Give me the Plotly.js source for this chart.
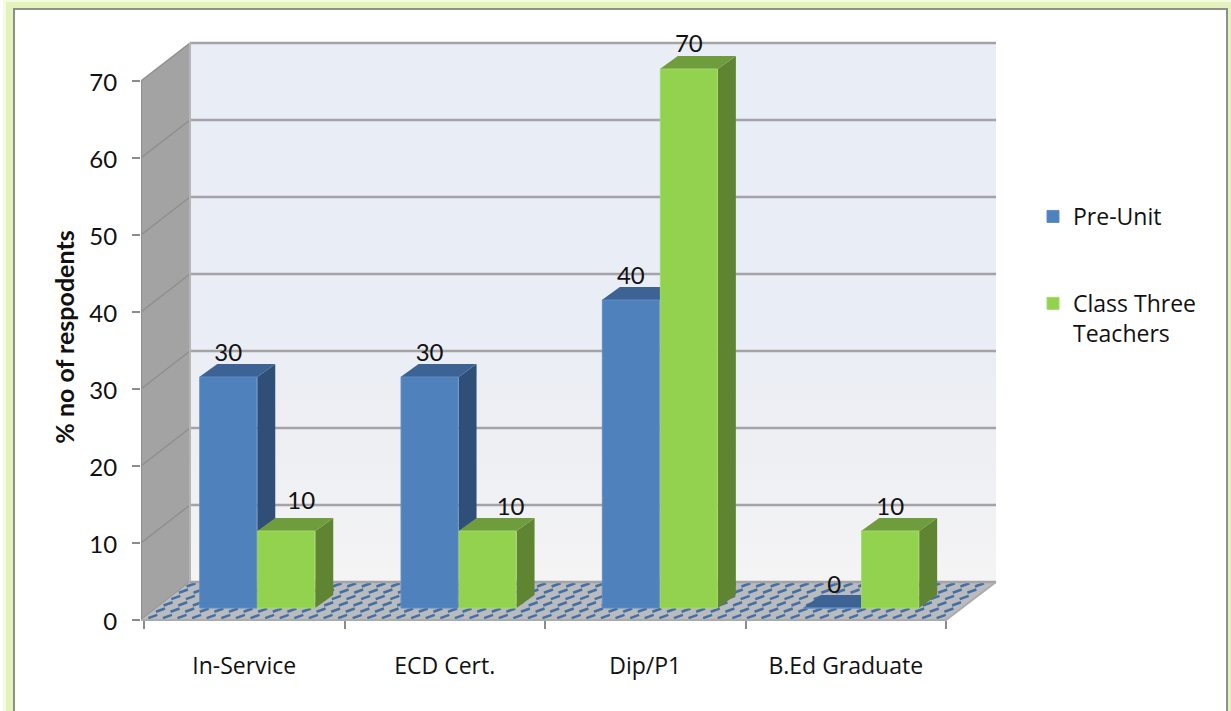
<!DOCTYPE html>
<html><head><meta charset="utf-8">
<script src="https://cdn.plot.ly/plotly-3.0.1.min.js"></script>
<style>html,body{margin:0;padding:0;background:#fff}#c{width:1231px;height:711px}</style></head>
<body><div id="c"></div>
<script>
const categories = ['In-Service', 'ECD Cert.', 'Dip/P1', 'B.Ed Graduate'];
const preUnit = [30, 30, 40, 0];
const classThree = [10, 10, 70, 10];
const seriesNames = ['Pre-Unit', 'Class Three<br>Teachers'];
const yTicks = [0, 10, 20, 30, 40, 50, 60, 70];

const W = 1231, H = 711;
// plot frame in pixels
const X_ZERO = 144, PX0 = 141, PX1 = 1000, PY0 = 634, PY1 = 40, ZERO = 620;
const pxPerX = 200.5, pxPerY = 7.7;
const xRange = [-(X_ZERO - PX0) / pxPerX, (PX1 - X_ZERO) / pxPerX];
const yRange = [-(PY0 - ZERO) / pxPerY, (ZERO - PY1) / pxPerY];
const px = v => v / pxPerX, py = v => v / pxPerY;
// 3D look
const wallTop = 70, wallL = -px(3);
const backL = px(46), backR = 4 + px(50), depthY = py(38);
const barW = px(58), barShift = px(13), barStretch = px(0.8), barBase = py(12), faceX = px(18), faceY = py(13);
const labelNudgeA = [0, 0, 0, px(2)];
const labelNudgeB = [px(15), px(23), 0, 0];
const labelGapA = [py(22), py(22), py(22), py(21)];
const labelGapB = [py(28), py(22), py(23), py(22)];

const colors = {
  a: {front: '#4f81bd', edge: '#5f8dc4', side: '#2f4f79', top: '#3d6394'},
  b: {front: '#92d24f', edge: '#a2da68', side: '#5f8532', top: '#6f9c3c'}
};
const skip = {hoverinfo: 'skip', showlegend: false};
function poly(xs, ys, color) {
  return Object.assign({type: 'scatter', mode: 'none', x: xs.concat(xs[0]), y: ys.concat(ys[0]), fill: 'toself', fillcolor: color}, skip);
}
const barLeft = (i, off) => i + 0.5 + barShift + i * barStretch + off;
const traces = [];
// side wall
traces.push(poly([wallL, backL, backL, wallL], [0, depthY, wallTop + depthY, wallTop], '#a3a3a3'));
// back wall
const back = poly([backL, backR, backR, backL], [depthY, depthY, wallTop + depthY, wallTop + depthY], '#e9edf6');
back.fillgradient = {type: 'vertical', colorscale: [[0, '#f4f4f5'], [0.25, '#eeeff3'], [0.5, '#e9edf6'], [1, '#e9edf6']]};
traces.push(back);
// grid
const gx = [], gy = [], sx = [], sy = [];
yTicks.forEach(v => {
  if (v > 0) { gx.push(backL, backR, null); gy.push(v + depthY, v + depthY, null); }
  sx.push(wallL, backL, null); sy.push(v, v + depthY, null);
});
traces.push(Object.assign({type: 'scatter', mode: 'lines', x: sx, y: sy, line: {color: '#8f8f8f', width: 1.5}}, skip));
traces.push(Object.assign({type: 'scatter', mode: 'lines', x: gx, y: gy, line: {color: '#a3a3a8', width: 2.5}}, skip));
// wall edges
traces.push(Object.assign({type: 'scatter', mode: 'lines', x: [backL, backL], y: [depthY, wallTop + depthY], line: {color: '#b5b5b5', width: 2}}, skip));
traces.push(Object.assign({type: 'scatter', mode: 'lines', x: [wallL, wallL], y: [0, wallTop], line: {color: '#8f8f8f', width: 2}}, skip));
// floor
traces.push(poly([wallL, 4, backR, backL], [0, 0, depthY, depthY], '#b9bbbf'));
const fx = [], fy = [];
const rows = 6, stepPx = 14.6, dashW = 9, dashH = 3.2;
for (let r = 0; r < rows; r++) {
  const t = (r + 0.3) / rows;
  const y = t * depthY, left = t * backL, right = 4 + t * (backR - 4);
  for (let c = 0; ; c++) {
    const x = left + px(2) + c * px(stepPx);
    if (x + px(dashW) > right) break;
    fx.push(x, x + px(dashW), null);
    fy.push(y, y + py(dashH), null);
  }
}
traces.push(Object.assign({type: 'scatter', mode: 'lines', x: fx, y: fy, line: {color: '#446fa3', width: 2.6}}, skip));
traces.push(Object.assign({type: 'scatter', mode: 'lines', x: [backL, backR], y: [depthY, depthY], line: {color: '#a3a3a8', width: 2.5}}, skip));
traces.push(Object.assign({type: 'scatter', mode: 'lines', x: [wallL, 4, backR], y: [0, 0, depthY], line: {color: '#ababab', width: 2}}, skip));
// bar faces
function faces(vals, off, c) {
  vals.forEach((v, i) => {
    const l = barLeft(i, off), r = l + barW, b = barBase, t = barBase + v;
    if (v > 0) traces.push(poly([r, r + faceX, r + faceX, r], [b, b + faceY, t + faceY, t], c.side));
    traces.push(poly([l, r, r + faceX, l + faceX], [t, t, t + faceY, t + faceY], c.top));
  });
}
faces(preUnit, -barW, colors.a);
faces(classThree, 0, colors.b);

// real bars, in overlay subplot so they sit on the depth faces
function bars(vals, off, c, name, group) {
  return {type: 'bar', xaxis: 'x2', yaxis: 'y2', name: name, legendgroup: group,
    x: vals.map((v, i) => barLeft(i, off) + barW / 2), y: vals,
    base: vals.map(() => barBase), width: vals.map(() => barW - px(1)),
    marker: {color: c.front, line: {width: 1, color: c.edge}}, hoverinfo: 'y'};
}
traces.push(bars(preUnit, -barW, colors.a, seriesNames[0], 'a'));
traces.push(bars(classThree, 0, colors.b, seriesNames[1], 'b'));

// value labels
const labelX = [], labelY = [], labelT = [];
preUnit.forEach((v, i) => { labelX.push(barLeft(i, -barW / 2) + labelNudgeA[i]); labelY.push(barBase + v + labelGapA[i]); labelT.push(String(v)); });
classThree.forEach((v, i) => { labelX.push(barLeft(i, barW / 2) + labelNudgeB[i]); labelY.push(barBase + v + labelGapB[i]); labelT.push(String(v)); });
traces.push(Object.assign({type: 'scatter', mode: 'text', xaxis: 'x2', yaxis: 'y2', x: labelX, y: labelY, text: labelT, cliponaxis: false,
  textposition: 'middle center', textfont: {family: 'Lato, sans-serif', size: 24, color: '#111'}}, skip));

const font = '"Open Sans", Lato, sans-serif';
const rect = (x0, y0, x1, y1, fill, line) => ({type: 'rect', xref: 'paper', yref: 'paper', x0: x0 / W, x1: x1 / W, y0: 1 - y0 / H, y1: 1 - y1 / H,
  fillcolor: fill, line: line || {width: 0}, layer: 'below'});

const layout = {
  width: W, height: H, margin: {l: 0, r: 0, t: 0, b: 0}, paper_bgcolor: '#ffffff', plot_bgcolor: 'rgba(0,0,0,0)',
  barmode: 'overlay', showlegend: true,
  xaxis: {domain: [PX0 / W, PX1 / W], range: xRange, anchor: 'free', position: 1 - ZERO / H, showgrid: false, zeroline: false, showline: false,
    tickmode: 'array', tickvals: categories.map((c, i) => i + 0.5), ticktext: categories, ticks: 'outside', ticklen: 25, tickcolor: 'rgba(0,0,0,0)', tickwidth: 1,
    minor: {tickmode: 'array', tickvals: [0, 1, 2, 3, 4], ticks: 'outside', ticklen: 8, tickcolor: '#8c8c8c', tickwidth: 2, showgrid: false},
    tickfont: {family: font, size: 23, color: '#111'}},
  yaxis: {domain: [1 - PY0 / H, 1 - PY1 / H], range: yRange, anchor: 'x', showgrid: false, zeroline: false, showline: false,
    tickmode: 'array', tickvals: yTicks, ticktext: yTicks.map(String), ticks: 'outside', ticklen: 8, tickcolor: '#8c8c8c', tickwidth: 2,
    ticklabelstandoff: 10, ticklabelshift: 2,
    tickfont: {family: 'Lato, sans-serif', size: 24, color: '#111'},
    title: {text: '<b>% no of respodents</b>', standoff: 7, font: {family: 'Lato, sans-serif', size: 25, color: '#111'}}},
  xaxis2: {overlaying: 'x', domain: [PX0 / W, PX1 / W], range: xRange, visible: false, anchor: 'y2'},
  yaxis2: {overlaying: 'y', domain: [1 - PY0 / H, 1 - PY1 / H], range: yRange, visible: false, anchor: 'x2'},
  legend: {x: 1033 / W, y: 1 - 195 / H, xanchor: 'left', yanchor: 'top', bgcolor: 'rgba(0,0,0,0)', borderwidth: 0, valign: 'top',
    tracegroupgap: 54, font: {family: font, size: 23, color: '#111'}, traceorder: 'grouped'},
  shapes: [
    rect(3, 0, W, H, '#f4fbe0'),
    rect(6, 2, W, H, '#e3f3bb'),
    rect(14, 9, 1227, H + 10, '#ffffff', {color: '#8e8e8e', width: 2})
  ]
};
Plotly.newPlot('c', traces, layout, {displayModeBar: false});
</script></body></html>
